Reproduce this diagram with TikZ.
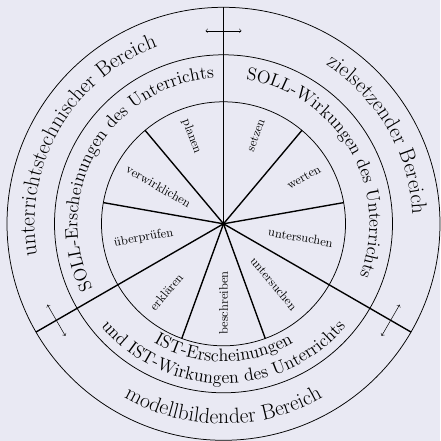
\documentclass[tikz,border=0pt]{standalone}
\usepackage{xcolor}
\usepackage{tikz}
\usetikzlibrary{decorations.text,calc}
\definecolor{bgcol}{RGB}{233,233,243}

\begin{document}
\begin{tikzpicture}[
  x=0.8pt,y=0.8pt,
  ring/.style={draw,line width=0.6pt},
  spoke/.style={draw,line width=1.1pt},
  verbnode/.style={font=\normalsize,inner sep=3pt},
  arctext/.style={decorate,decoration={text along path,text align=center,text={#1}}},
  dirarrow/.style={<->,thin}]
% background and frame
\fill[bgcol] (-223.5,-217.2) rectangle (216.5,223.8);
\useasboundingbox (-223.5,-217.2) rectangle (216.5,223.8);
\coordinate (c) at (0,0);
% rings
\draw[ring] (c) circle[radius=122];
\draw[ring] (c) circle[radius=169];
\draw[ring] (c) circle[radius=216.5];
% dividers of the three areas
\draw[spoke] (c) -- (90:216.5);
\draw[spoke] (c) -- (210:216.5);
\draw[spoke] (c) -- (330:216.5);
% spokes of the inner wheel
\draw[spoke] (c) -- (50:122);
\draw[spoke] (c) -- (10:122);
\draw[spoke] (c) -- (-70:122);
\draw[spoke] (c) -- (-110:122);
\draw[spoke] (c) -- (170:122);
\draw[spoke] (c) -- (130:122);
% verbs
\node[verbnode,anchor=west,rotate=-70] (planen) at (110:115) {planen};
\node[verbnode,anchor=east,rotate=70] (setzen) at (70:115) {setzen};
\node[verbnode,anchor=east,rotate=30] (werten) at (30:115) {werten};
\node[verbnode,anchor=east,rotate=-10] (unters1) at (-10:115) {untersuchen};
\node[verbnode,anchor=east,rotate=-50] (unters2) at (-50:115) {untersuchen};
\node[verbnode,anchor=west,rotate=90] (beschr) at (270:115) {beschreiben};
\node[verbnode,anchor=west,rotate=50] (erkl) at (230:115) {erklären};
\node[verbnode,anchor=west,rotate=10] (ueberpr) at (190:115) {überprüfen};
\node[verbnode,anchor=west,rotate=-30] (verw) at (150:115) {verwirklichen};
% middle ring
\path[arctext={|\Large|SOLL-Erscheinungen des Unterrichts}]
  (210:146) arc[start angle=210,end angle=90,radius=146];
\path[arctext={|\Large|SOLL-Wirkungen des Unterrichts}]
  (90:146) arc[start angle=90,end angle=-30,radius=146];
\path[arctext={|\Large|IST-Erscheinungen}]
  (210:138) arc[start angle=210,end angle=330,radius=138];
\path[arctext={|\Large|und IST-Wirkungen des Unterrichts}]
  (210:159.5) arc[start angle=210,end angle=330,radius=159.5];
% outer ring
\path[arctext={|\LARGE|unterrichtstechnischer Bereich}]
  (210:189) arc[start angle=210,end angle=90,radius=189];
\path[arctext={|\LARGE|zielsetzender Bereich}]
  (90:189) arc[start angle=90,end angle=-30,radius=189];
\path[arctext={|\LARGE|modellbildender Bereich}]
  (210:200) arc[start angle=210,end angle=330,radius=200];
% transitions
\coordinate (t1) at ($(90:193)+(180:18)$);
\coordinate (t2) at ($(90:193)+(0:18)$);
\coordinate (l1) at ($(210:193)+(120:18)$);
\coordinate (l2) at ($(210:193)+(300:18)$);
\coordinate (r1) at ($(330:193)+(60:18)$);
\coordinate (r2) at ($(330:193)+(240:18)$);
\draw[dirarrow] (t1) -- (t2);
\draw[dirarrow] (l1) -- (l2);
\draw[dirarrow] (r1) -- (r2);
\end{tikzpicture}
\end{document}
